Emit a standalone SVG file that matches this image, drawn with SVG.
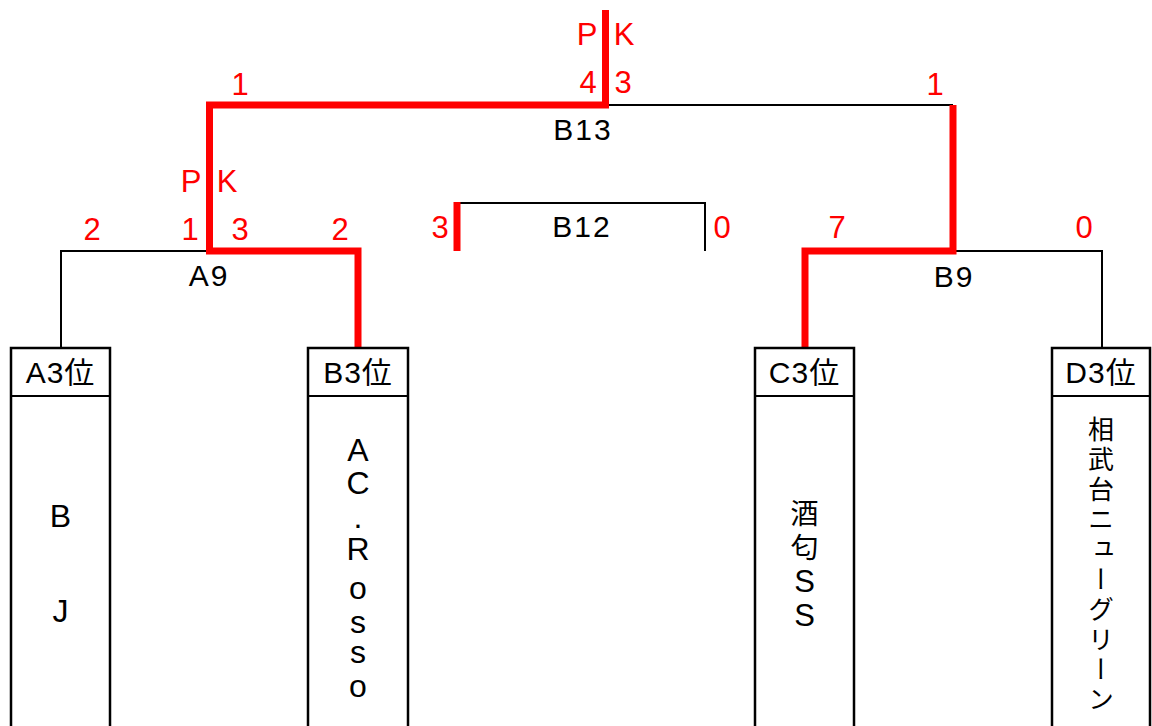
<svg xmlns="http://www.w3.org/2000/svg" width="1152" height="726" viewBox="0 0 1152 726">
<style>
text{font-family:"Liberation Sans","Noto Sans CJK JP",sans-serif}
.s{fill:#ff0000;font-size:31px;text-anchor:middle}
.m{fill:#000;font-size:30px;text-anchor:middle;letter-spacing:2px}
.h{fill:#000;font-size:30px;text-anchor:middle;letter-spacing:1px}
.v{fill:#000;font-size:32px;text-anchor:middle}
.vc{fill:#000;font-size:28px;text-anchor:middle}
.vj{fill:#000;font-size:26px;writing-mode:vertical-rl;text-orientation:upright;letter-spacing:4px;font-family:"Noto Sans CJK JP",sans-serif}
.k{fill:none;stroke:#000;stroke-width:2}
.r{fill:none;stroke:#ff0000;stroke-width:7;stroke-linejoin:miter;stroke-linecap:butt}
.box{fill:#fff;stroke:#000;stroke-width:2.5}
</style>
<g id="connectors">
<polyline class="k" points="605,105 953,105"/>
<polyline class="k" points="61,347 61,251 210,251"/>
<polyline class="k" points="953,251 1102,251 1102,347"/>
<polyline class="k" points="459,203 705,203 705,251"/>
<polyline class="r" points="605.5,10 605.5,105 209.5,105 209.5,251 358,251 358,347"/>
<polyline class="r" points="953,105 953,251 805,251 805,347"/>
<line class="r" x1="457" y1="202" x2="457" y2="251"/>
</g>
<g id="node-A3">
<rect class="box" x="11" y="348" width="99" height="400"/>
<line class="k" x1="11" y1="396" x2="110" y2="396" stroke-width="2.5"/>
<text class="h" x="60.5" y="383">A3位</text>
<text class="v"><tspan x="60.5" y="527">B</tspan><tspan x="60.5" y="622">J</tspan></text>
</g>
<g id="node-B3">
<rect class="box" x="308" y="348" width="100" height="400"/>
<line class="k" x1="308" y1="396" x2="408" y2="396" stroke-width="2.5"/>
<text class="h" x="358" y="383">B3位</text>
<text class="v"><tspan x="358" y="461">A</tspan><tspan x="358" y="494">C</tspan><tspan x="358" y="528">.</tspan><tspan x="358" y="560">R</tspan><tspan x="358" y="599">o</tspan><tspan x="358" y="633">s</tspan><tspan x="358" y="663">s</tspan><tspan x="358" y="697">o</tspan></text>
</g>
<g id="node-C3">
<rect class="box" x="755" y="348" width="99" height="400"/>
<line class="k" x1="755" y1="396" x2="854" y2="396" stroke-width="2.5"/>
<text class="h" x="804.5" y="383">C3位</text>
<text class="vc"><tspan x="804.5" y="524">酒</tspan><tspan x="804.5" y="558">匂</tspan><tspan x="804.5" y="592" font-size="31">S</tspan><tspan x="804.5" y="626" font-size="31">S</tspan></text>
</g>
<g id="node-D3">
<rect class="box" x="1052" y="348" width="98" height="400"/>
<line class="k" x1="1052" y1="396" x2="1150" y2="396" stroke-width="2.5"/>
<text class="h" x="1101" y="383">D3位</text>
<text class="vj" x="1101" y="416">相武台ニューグリーン</text>
</g>
<g id="labels">
<text class="s"><tspan x="587" y="45">P</tspan><tspan x="624" y="45">K</tspan></text>
<text class="s" x="588" y="93">4</text>
<text class="s" x="623" y="93">3</text>
<text class="s" x="240" y="95">1</text>
<text class="s" x="935" y="95">1</text>
<text class="m" x="583" y="140">B13</text>
<text class="s"><tspan x="191" y="192">P</tspan><tspan x="227" y="192">K</tspan></text>
<text class="s" x="92" y="240">2</text>
<text class="s" x="190" y="240">1</text>
<text class="s" x="240" y="240">3</text>
<text class="s" x="340" y="240">2</text>
<text class="s" x="440" y="238">3</text>
<text class="m" x="582" y="237">B12</text>
<text class="s" x="722" y="238">0</text>
<text class="s" x="837" y="238">7</text>
<text class="s" x="1084" y="238">0</text>
<text class="m" x="209" y="286">A9</text>
<text class="m" x="954" y="287">B9</text>
</g>
</svg>
